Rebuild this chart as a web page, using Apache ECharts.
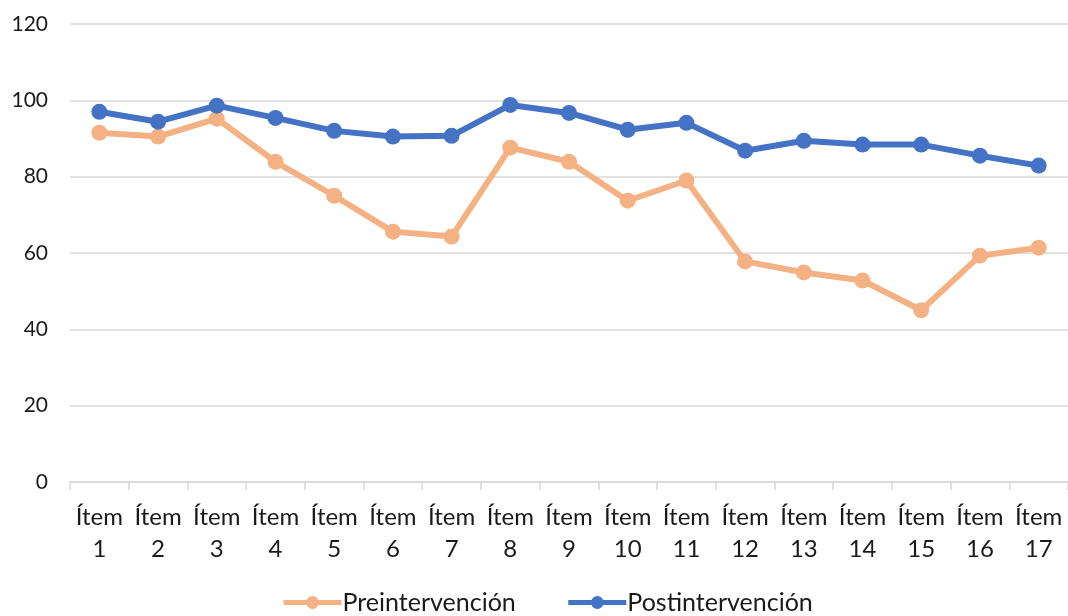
<!DOCTYPE html>
<html>
<head>
<meta charset="utf-8">
<script src="https://cdn.jsdelivr.net/npm/echarts@6/dist/echarts.min.js"></script>
<style>
  html, body { margin: 0; padding: 0; background: #fff; }
  #chart { width: 1068px; height: 616px; }
</style>
</head>
<body>
<div id="chart"></div>
<script>
// Item labels along the category axis
const categories = ['Ítem 1', 'Ítem 2', 'Ítem 3', 'Ítem 4', 'Ítem 5', 'Ítem 6', 'Ítem 7', 'Ítem 8', 'Ítem 9',
  'Ítem 10', 'Ítem 11', 'Ítem 12', 'Ítem 13', 'Ítem 14', 'Ítem 15', 'Ítem 16', 'Ítem 17'];

// Scores before and after the intervention
const preValues = [91.5, 90.5, 95.2, 83.9, 75.0, 65.6, 64.3, 87.6, 83.9, 73.7, 79.0, 57.8, 54.9, 52.8, 45.0, 59.3, 61.4];
const postValues = [97.0, 94.4, 98.6, 95.4, 92.0, 90.5, 90.7, 98.8, 96.7, 92.3, 94.1, 86.8, 89.4, 88.4, 88.4, 85.5, 82.9];

const seriesNames = ['Preintervención', 'Postintervención'];

const FONT = 'Lato, "Noto Sans", sans-serif';
const chart = echarts.init(document.getElementById('chart'), null, { renderer: 'canvas' });

chart.setOption({
  animation: false,
  textStyle: { fontFamily: FONT },
  grid: { left: 70, top: 24, width: 999, bottom: 134, containLabel: false },
  legend: {
    data: seriesNames,
    bottom: -4,
    left: 276,
    itemWidth: 58,
    itemHeight: 16,
    itemGap: 50,
    lineStyle: { width: 5 },
    textStyle: { fontSize: 25, color: '#1a1a1a', fontFamily: FONT, padding: [0, 0, 0, -4] }
  },
  xAxis: {
    type: 'category',
    data: categories,
    boundaryGap: true,
    axisLine: { lineStyle: { color: '#D9D9D9', width: 1.5 } },
    axisTick: { show: true, length: 8, lineStyle: { color: '#D9D9D9', width: 1.5 } },
    axisLabel: {
      color: '#1a1a1a',
      fontSize: 24,
      lineHeight: 32,
      margin: 19,
      interval: 0,
      formatter: v => v.replace(' ', '\n')
    }
  },
  yAxis: {
    type: 'value',
    min: 0,
    max: 120,
    interval: 20,
    axisLine: { show: false },
    axisTick: { show: false },
    splitLine: { lineStyle: { color: '#D9D9D9', width: 1.5 } },
    axisLabel: { color: '#1a1a1a', fontSize: 21, margin: 22 }
  },
  series: [
    {
      name: seriesNames[0],
      type: 'line',
      data: preValues,
      symbol: 'circle',
      symbolSize: 16,
      lineStyle: { color: '#F4B183', width: 6 },
      itemStyle: { color: '#F4B183' }
    },
    {
      name: seriesNames[1],
      type: 'line',
      data: postValues,
      symbol: 'circle',
      symbolSize: 16,
      lineStyle: { color: '#4472C4', width: 6 },
      itemStyle: { color: '#4472C4' }
    }
  ]
});
</script>
</body>
</html>
